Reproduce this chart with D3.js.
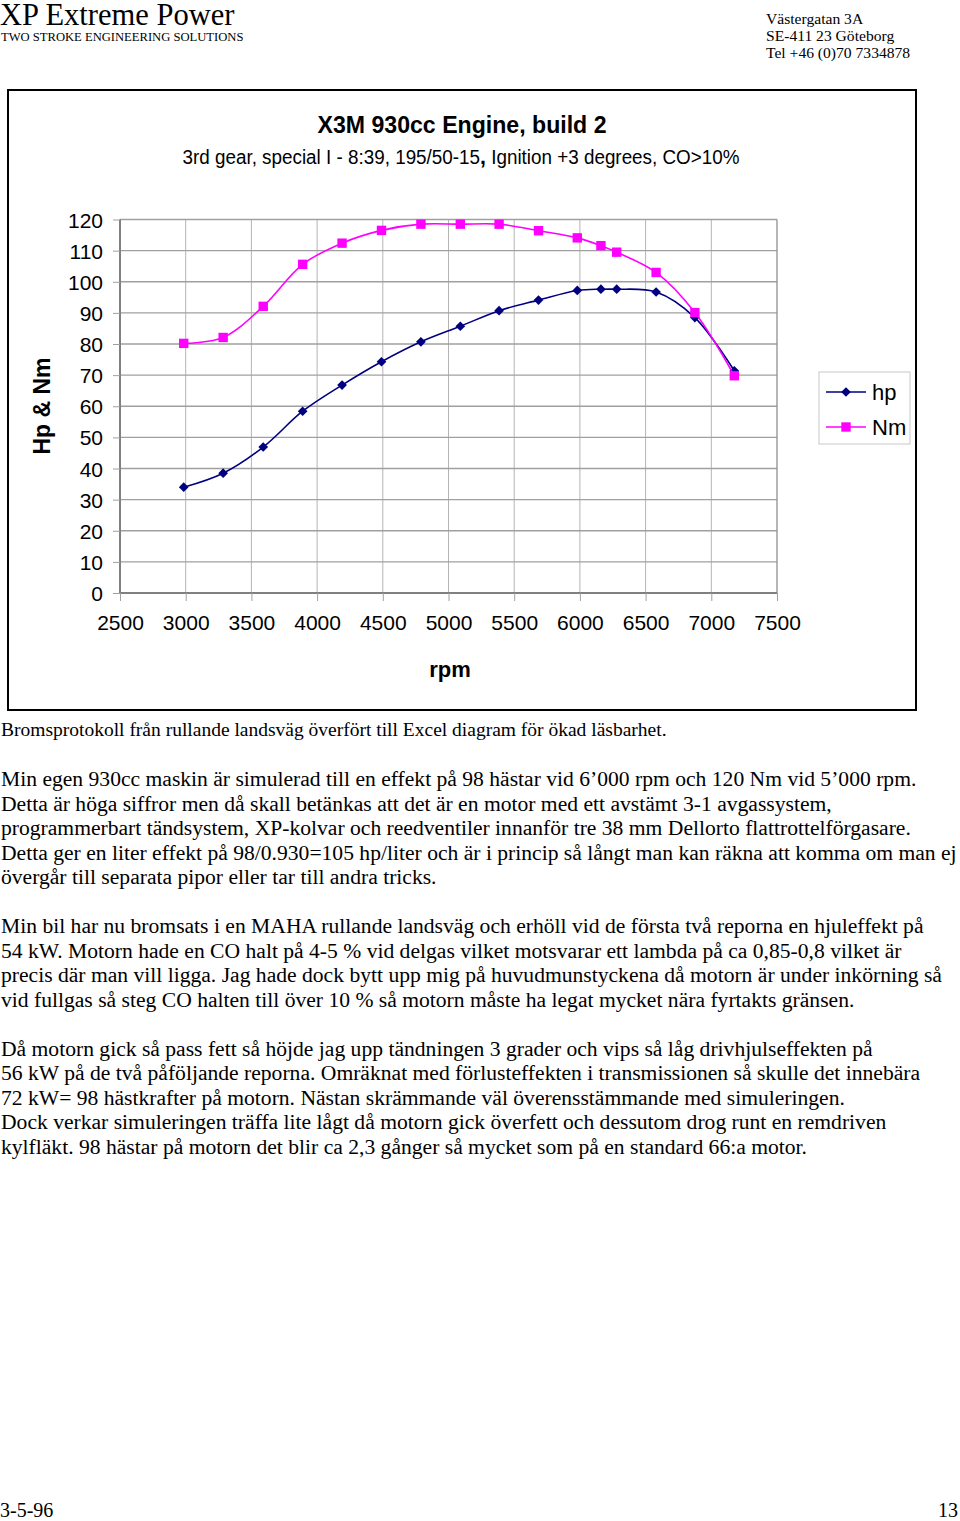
<!DOCTYPE html>
<html>
<head>
<meta charset="utf-8">
<script src="https://cdn.jsdelivr.net/npm/d3@7"></script>
<style>
body { margin: 0; background: #fff; }
svg { display: block; }
.serif { font-family: "Liberation Serif", "Times New Roman", serif; fill: #000; }
.sans { font-family: "Liberation Sans", Arial, sans-serif; fill: #000; }
</style>
</head>
<body>
<script>
// dyno run, 3rd gear
var rpm = [2985, 3285, 3590, 3890, 4190, 4490, 4790, 5090, 5385, 5685, 5980, 6160, 6280, 6580, 6875, 7175];
var hp = [34.0, 38.5, 46.9, 58.4, 66.8, 74.3, 80.7, 85.7, 90.7, 94.1, 97.2, 97.6, 97.6, 96.7, 88.5, 71.4];
var nm = [80.2, 82.1, 92.1, 105.6, 112.4, 116.5, 118.5, 118.5, 118.5, 116.4, 114.1, 111.6, 109.5, 103.0, 90.1, 69.8];

var xTicks = [2500, 3000, 3500, 4000, 4500, 5000, 5500, 6000, 6500, 7000, 7500];
var yTicks = [0, 10, 20, 30, 40, 50, 60, 70, 80, 90, 100, 110, 120];
var seriesNames = ["hp", "Nm"];
var seriesColors = ["#000080", "#ff00ff"];

var address = ["Västergatan 3A", "SE-411 23 Göteborg", "Tel +46 (0)70 7334878"];

var caption = "Bromsprotokoll från rullande landsväg överfört till Excel diagram för ökad läsbarhet.";
var paragraphs = [
  ["Min egen 930cc maskin är simulerad till en effekt på 98 hästar vid 6’000 rpm och 120 Nm vid 5’000 rpm.",
   "Detta är höga siffror men då skall betänkas att det är en motor med ett avstämt 3-1 avgassystem,",
   "programmerbart tändsystem, XP-kolvar och reedventiler innanför tre 38 mm Dellorto flattrottelförgasare.",
   "Detta ger en liter effekt på 98/0.930=105 hp/liter och är i princip så långt man kan räkna att komma om man ej",
   "övergår till separata pipor eller tar till andra tricks."],
  ["Min bil har nu bromsats i en MAHA rullande landsväg och erhöll vid de första två reporna en hjuleffekt på",
   "54 kW. Motorn hade en CO halt på 4-5 % vid delgas vilket motsvarar ett lambda på ca 0,85-0,8 vilket är",
   "precis där man vill ligga. Jag hade dock bytt upp mig på huvudmunstyckena då motorn är under inkörning så",
   "vid fullgas så steg CO halten till över 10 % så motorn måste ha legat mycket nära fyrtakts gränsen."],
  ["Då motorn gick så pass fett så höjde jag upp tändningen 3 grader och vips så låg drivhjulseffekten på",
   "56 kW på de två påföljande reporna. Omräknat med förlusteffekten i transmissionen så skulle det innebära",
   "72 kW= 98 hästkrafter på motorn. Nästan skrämmande väl överensstämmande med simuleringen.",
   "Dock verkar simuleringen träffa lite lågt då motorn gick överfett och dessutom drog runt en remdriven",
   "kylfläkt. 98 hästar på motorn det blir ca 2,3 gånger så mycket som på en standard 66:a motor."]
];

var W = 960, H = 1521;
var svg = d3.select("body").append("svg")
  .attr("width", W)
  .attr("height", H);

// letterhead
svg.append("text").attr("class", "serif")
  .attr("x", 0).attr("y", 25)
  .style("font-size", "30.5px")
  .text("XP Extreme Power");
svg.append("text").attr("class", "serif")
  .attr("x", 1).attr("y", 41)
  .style("font-size", "12.6px")
  .text("TWO STROKE ENGINEERING SOLUTIONS");
svg.selectAll("text.addr").data(address).enter().append("text")
  .attr("class", "serif addr")
  .attr("x", 766)
  .attr("y", function(d, i) { return 24 + i * 17; })
  .style("font-size", "15.6px")
  .text(function(d) { return d; });

// chart frame
svg.append("rect")
  .attr("x", 8).attr("y", 90)
  .attr("width", 908).attr("height", 620)
  .attr("fill", "none")
  .attr("stroke", "#000")
  .attr("stroke-width", 2);

svg.append("text").attr("class", "sans")
  .attr("x", 462).attr("y", 133)
  .attr("text-anchor", "middle")
  .attr("textLength", 289).attr("lengthAdjust", "spacingAndGlyphs")
  .style("font-size", "24px").style("font-weight", "bold")
  .text("X3M 930cc Engine, build 2");

var sub = svg.append("text").attr("class", "sans")
  .attr("x", 461).attr("y", 164)
  .attr("text-anchor", "middle")
  .attr("textLength", 557).attr("lengthAdjust", "spacingAndGlyphs")
  .style("font-size", "19.5px");
sub.append("tspan").text("3rd gear, special I - 8:39, 195/50-15");
sub.append("tspan").style("font-weight", "bold").style("font-size", "22px").text(",");
sub.append("tspan").text(" Ignition +3 degrees, CO>10%");

// plot
var x = d3.scaleLinear().domain([2500, 7500]).range([120, 777]);
var y = d3.scaleLinear().domain([0, 120]).range([593, 219.5]);

var grid = svg.append("g");
grid.selectAll("line.v").data(xTicks.slice(1, -1)).enter().append("line")
  .attr("x1", x).attr("x2", x)
  .attr("y1", y(0)).attr("y2", y(120))
  .attr("stroke", "#b4b4b4").attr("stroke-width", 1);
grid.selectAll("line.h").data(yTicks.slice(1)).enter().append("line")
  .attr("x1", x(2500)).attr("x2", x(7500))
  .attr("y1", y).attr("y2", y)
  .attr("stroke", "#a0a0a0").attr("stroke-width", 1.3);
grid.append("line")
  .attr("x1", x(7500)).attr("x2", x(7500))
  .attr("y1", y(0)).attr("y2", y(120))
  .attr("stroke", "#909090").attr("stroke-width", 1.3);

var xAxis = svg.append("g")
  .attr("transform", "translate(0," + y(0) + ")")
  .call(d3.axisBottom(x).tickValues(xTicks).tickSize(8).tickPadding(14).tickFormat(d3.format("d")));
var yAxis = svg.append("g")
  .attr("transform", "translate(" + x(2500) + ",0)")
  .call(d3.axisLeft(y).tickValues(yTicks).tickSize(7).tickPadding(10).tickFormat(d3.format("d")));

[xAxis, yAxis].forEach(function(a) {
  a.select(".domain").attr("stroke", "#808080").attr("stroke-width", 2);
  a.selectAll(".tick line").attr("stroke", "#a0a0a0").attr("stroke-width", 1);
  a.selectAll(".tick text")
    .attr("fill", "#000")
    .style("font-family", "'Liberation Sans', Arial, sans-serif")
    .style("font-size", "21px");
});
yAxis.selectAll(".tick text").attr("x", -17).attr("dy", "0.36em");
xAxis.select(".domain").attr("d", "M" + x(2500) + ",0H" + x(7500));
yAxis.select(".domain").attr("d", "M0," + y(0) + "V" + y(120));

svg.append("text").attr("class", "sans")
  .attr("x", 450).attr("y", 677)
  .attr("text-anchor", "middle")
  .style("font-size", "22px").style("font-weight", "bold")
  .text("rpm");
svg.append("text").attr("class", "sans")
  .attr("transform", "translate(50,406) rotate(-90)")
  .attr("text-anchor", "middle")
  .style("font-size", "23px").style("font-weight", "bold")
  .text("Hp & Nm");

var series = [hp, nm];
var line = d3.line().curve(d3.curveCatmullRom.alpha(0.5))
  .x(function(d) { return x(d[0]); })
  .y(function(d) { return y(d[1]); });

var diamond = d3.symbol().type(d3.symbolDiamond2).size(60);
var square = d3.symbol().type(d3.symbolSquare).size(88);
var shapes = [diamond, square];

series.forEach(function(vals, s) {
  var pts = rpm.map(function(r, i) { return [r, vals[i]]; });
  var g = svg.append("g");
  g.append("path")
    .datum(pts)
    .attr("d", line)
    .attr("fill", "none")
    .attr("stroke", seriesColors[s])
    .attr("stroke-width", 1.6);
  g.selectAll("path.mk").data(pts).enter().append("path")
    .attr("class", "mk")
    .attr("transform", function(d) { return "translate(" + x(d[0]) + "," + y(d[1]) + ")"; })
    .attr("d", shapes[s])
    .attr("fill", seriesColors[s]);
});

// legend
var leg = svg.append("g");
leg.append("rect")
  .attr("x", 819).attr("y", 372)
  .attr("width", 91).attr("height", 72)
  .attr("fill", "#fff")
  .attr("stroke", "#c8c8c8").attr("stroke-width", 1);
seriesNames.forEach(function(name, s) {
  var ly = 392 + s * 35;
  leg.append("line")
    .attr("x1", 826).attr("x2", 866)
    .attr("y1", ly).attr("y2", ly)
    .attr("stroke", seriesColors[s]).attr("stroke-width", 1.6);
  leg.append("path")
    .attr("transform", "translate(846," + ly + ")")
    .attr("d", shapes[s])
    .attr("fill", seriesColors[s]);
  leg.append("text").attr("class", "sans")
    .attr("x", 872).attr("y", ly + 8)
    .style("font-size", "22px")
    .text(name);
});

// body text
var lh = 24.5;
svg.append("text").attr("class", "serif")
  .attr("x", 1).attr("y", 736)
  .style("font-size", "19.5px")
  .text(caption);

var by = 786;
var bodyLines = [];
paragraphs.forEach(function(p, pi) {
  if (pi > 0) by += lh;
  p.forEach(function(t) { bodyLines.push({ t: t, y: by }); by += lh; });
});
svg.selectAll("text.body").data(bodyLines).enter().append("text")
  .attr("class", "serif body")
  .attr("x", 1)
  .attr("y", function(d) { return d.y; })
  .style("font-size", "21.6px")
  .text(function(d) { return d.t; });

// footer
svg.append("text").attr("class", "serif")
  .attr("x", 0).attr("y", 1517)
  .style("font-size", "20px")
  .text("3-5-96");
svg.append("text").attr("class", "serif")
  .attr("x", 958).attr("y", 1517)
  .attr("text-anchor", "end")
  .style("font-size", "20px")
  .text("13");
</script>
</body>
</html>
